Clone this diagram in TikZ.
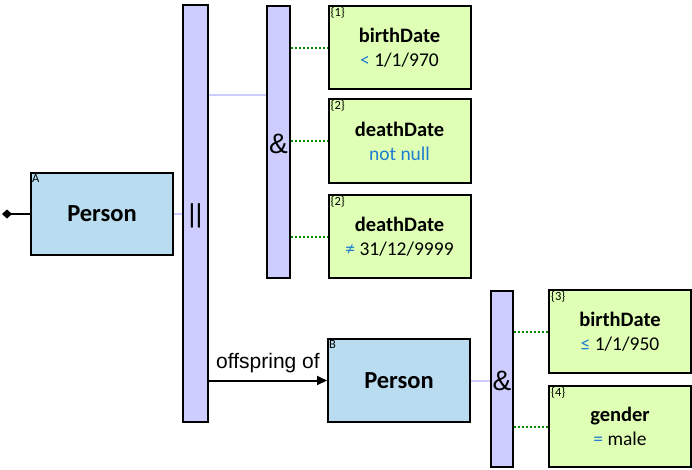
\documentclass[tikz,border=0pt]{standalone}
\usepackage{fontspec}
\setmainfont{Carlito}
\newfontfamily\arialf{Liberation Sans}
\usetikzlibrary{arrows.meta,calc}
\definecolor{personc}{HTML}{BADCF0}
\definecolor{barc}{HTML}{CCCCFF}
\definecolor{condc}{HTML}{DFFFB4}
\definecolor{dotc}{HTML}{008A00}
\definecolor{opc}{HTML}{1E7CD2}
\tikzset{
  person/.style={draw=black, fill=personc, line width=2pt, inner sep=0pt,
    minimum width=142pt, minimum height=82pt, font=\fontsize{24.5}{28}\selectfont\bfseries},
  bar/.style={draw=black, fill=barc, line width=2pt, inner sep=0pt},
  cond/.style={draw=black, fill=condc, line width=2pt, inner sep=0pt,
    minimum width=142pt, minimum height=83pt, align=center,
    font=\fontsize{19.5}{24}\selectfont},
  tag/.style={anchor=north west, inner sep=0pt, font=\fontsize{12.5}{13}\selectfont},
  link/.style={draw=barc, line width=2pt},
  dotlink/.style={draw=dotc, line width=2pt, dash pattern=on 2pt off 2pt},
}
\newcommand{\ttlfont}{\fontsize{20.5}{24}\selectfont\bfseries}
\newcommand{\op}[1]{\textcolor{opc}{#1}}
\begin{document}
\begin{tikzpicture}[x=1pt,y=-1pt]
\useasboundingbox (0,0) rectangle (692,469);
% nodes
\node[person] (pa) at (102,214) {Person};
\node[tag] (la) at ($(pa.north west)+(2,2)$) {A};
\node[bar, minimum width=25pt, minimum height=417pt] (or) at (195.5,213.5) {};
\node[inner sep=0pt, font=\arialf\fontsize{26}{28}\selectfont] (ors) at (195.5,216) {||};
\node[bar, minimum width=23pt, minimum height=272pt] (and1) at (278.5,142) {};
\node[inner sep=0pt, font=\arialf\fontsize{28}{30}\selectfont] (amp1) at (278.5,144) {\&};
\node[cond] (c1) at (399.5,47.5) {{\ttlfont birthDate}\\\op{<} 1/1/970};
\node[tag] (t1) at ($(c1.north west)+(3,2)$) {\{1\}};
\node[cond, minimum height=84pt] (c2) at (399.5,141) {{\ttlfont deathDate}\\\op{not null}};
\node[tag] (t2) at ($(c2.north west)+(3,2)$) {\{2\}};
\node[cond] (c3) at (399.5,236.5) {{\ttlfont deathDate}\\\op{≠} 31/12/9999};
\node[tag] (t3) at ($(c3.north west)+(3,2)$) {\{2\}};
\node[person, minimum height=83pt] (pb) at (399,380.5) {Person};
\node[tag] (lb) at ($(pb.north west)+(2,2)$) {B};
\node[bar, minimum width=22pt, minimum height=176pt] (and2) at (502,379) {};
\node[inner sep=0pt, font=\arialf\fontsize{28}{30}\selectfont] (amp2) at (502,381) {\&};
\node[cond, minimum width=142pt] (c4) at (620,331.5) {{\ttlfont birthDate}\\\op{≤} 1/1/950};
\node[tag] (t4) at ($(c4.north west)+(3,2)$) {\{3\}};
\node[cond, minimum width=142pt, minimum height=81pt] (c5) at (620,426.5) {{\ttlfont gender}\\\op{=} male};
\node[tag] (t5) at ($(c5.north west)+(3,2)$) {\{4\}};
% connectors
\coordinate (root) at (2,214);
\coordinate (y95) at (0,95);
\draw[line width=2pt, {Diamond[length=10pt,width=9pt]}-] (root) -- (pa.west);
\draw[link] (pa.east) -- (pa.east -| or.west);
\draw[link] (or.east |- y95) -- (and1.west |- y95);
\draw[dotlink] (c1.west -| and1.east) -- (c1.west);
\draw[dotlink] (c2.west -| and1.east) -- (c2.west);
\draw[dotlink] (c3.west -| and1.east) -- (c3.west);
\draw[line width=2pt, -{Triangle[length=10pt,width=9pt]}] (or.east |- pb.west) -- (pb.west)
  node[midway, above=3pt, font=\arialf\fontsize{21}{23}\selectfont] (off) {offspring of};
\draw[link] (pb.east) -- (pb.east -| and2.west);
\draw[dotlink] (c4.west -| and2.east) -- (c4.west);
\draw[dotlink] (c5.west -| and2.east) -- (c5.west);
\end{tikzpicture}
\end{document}
